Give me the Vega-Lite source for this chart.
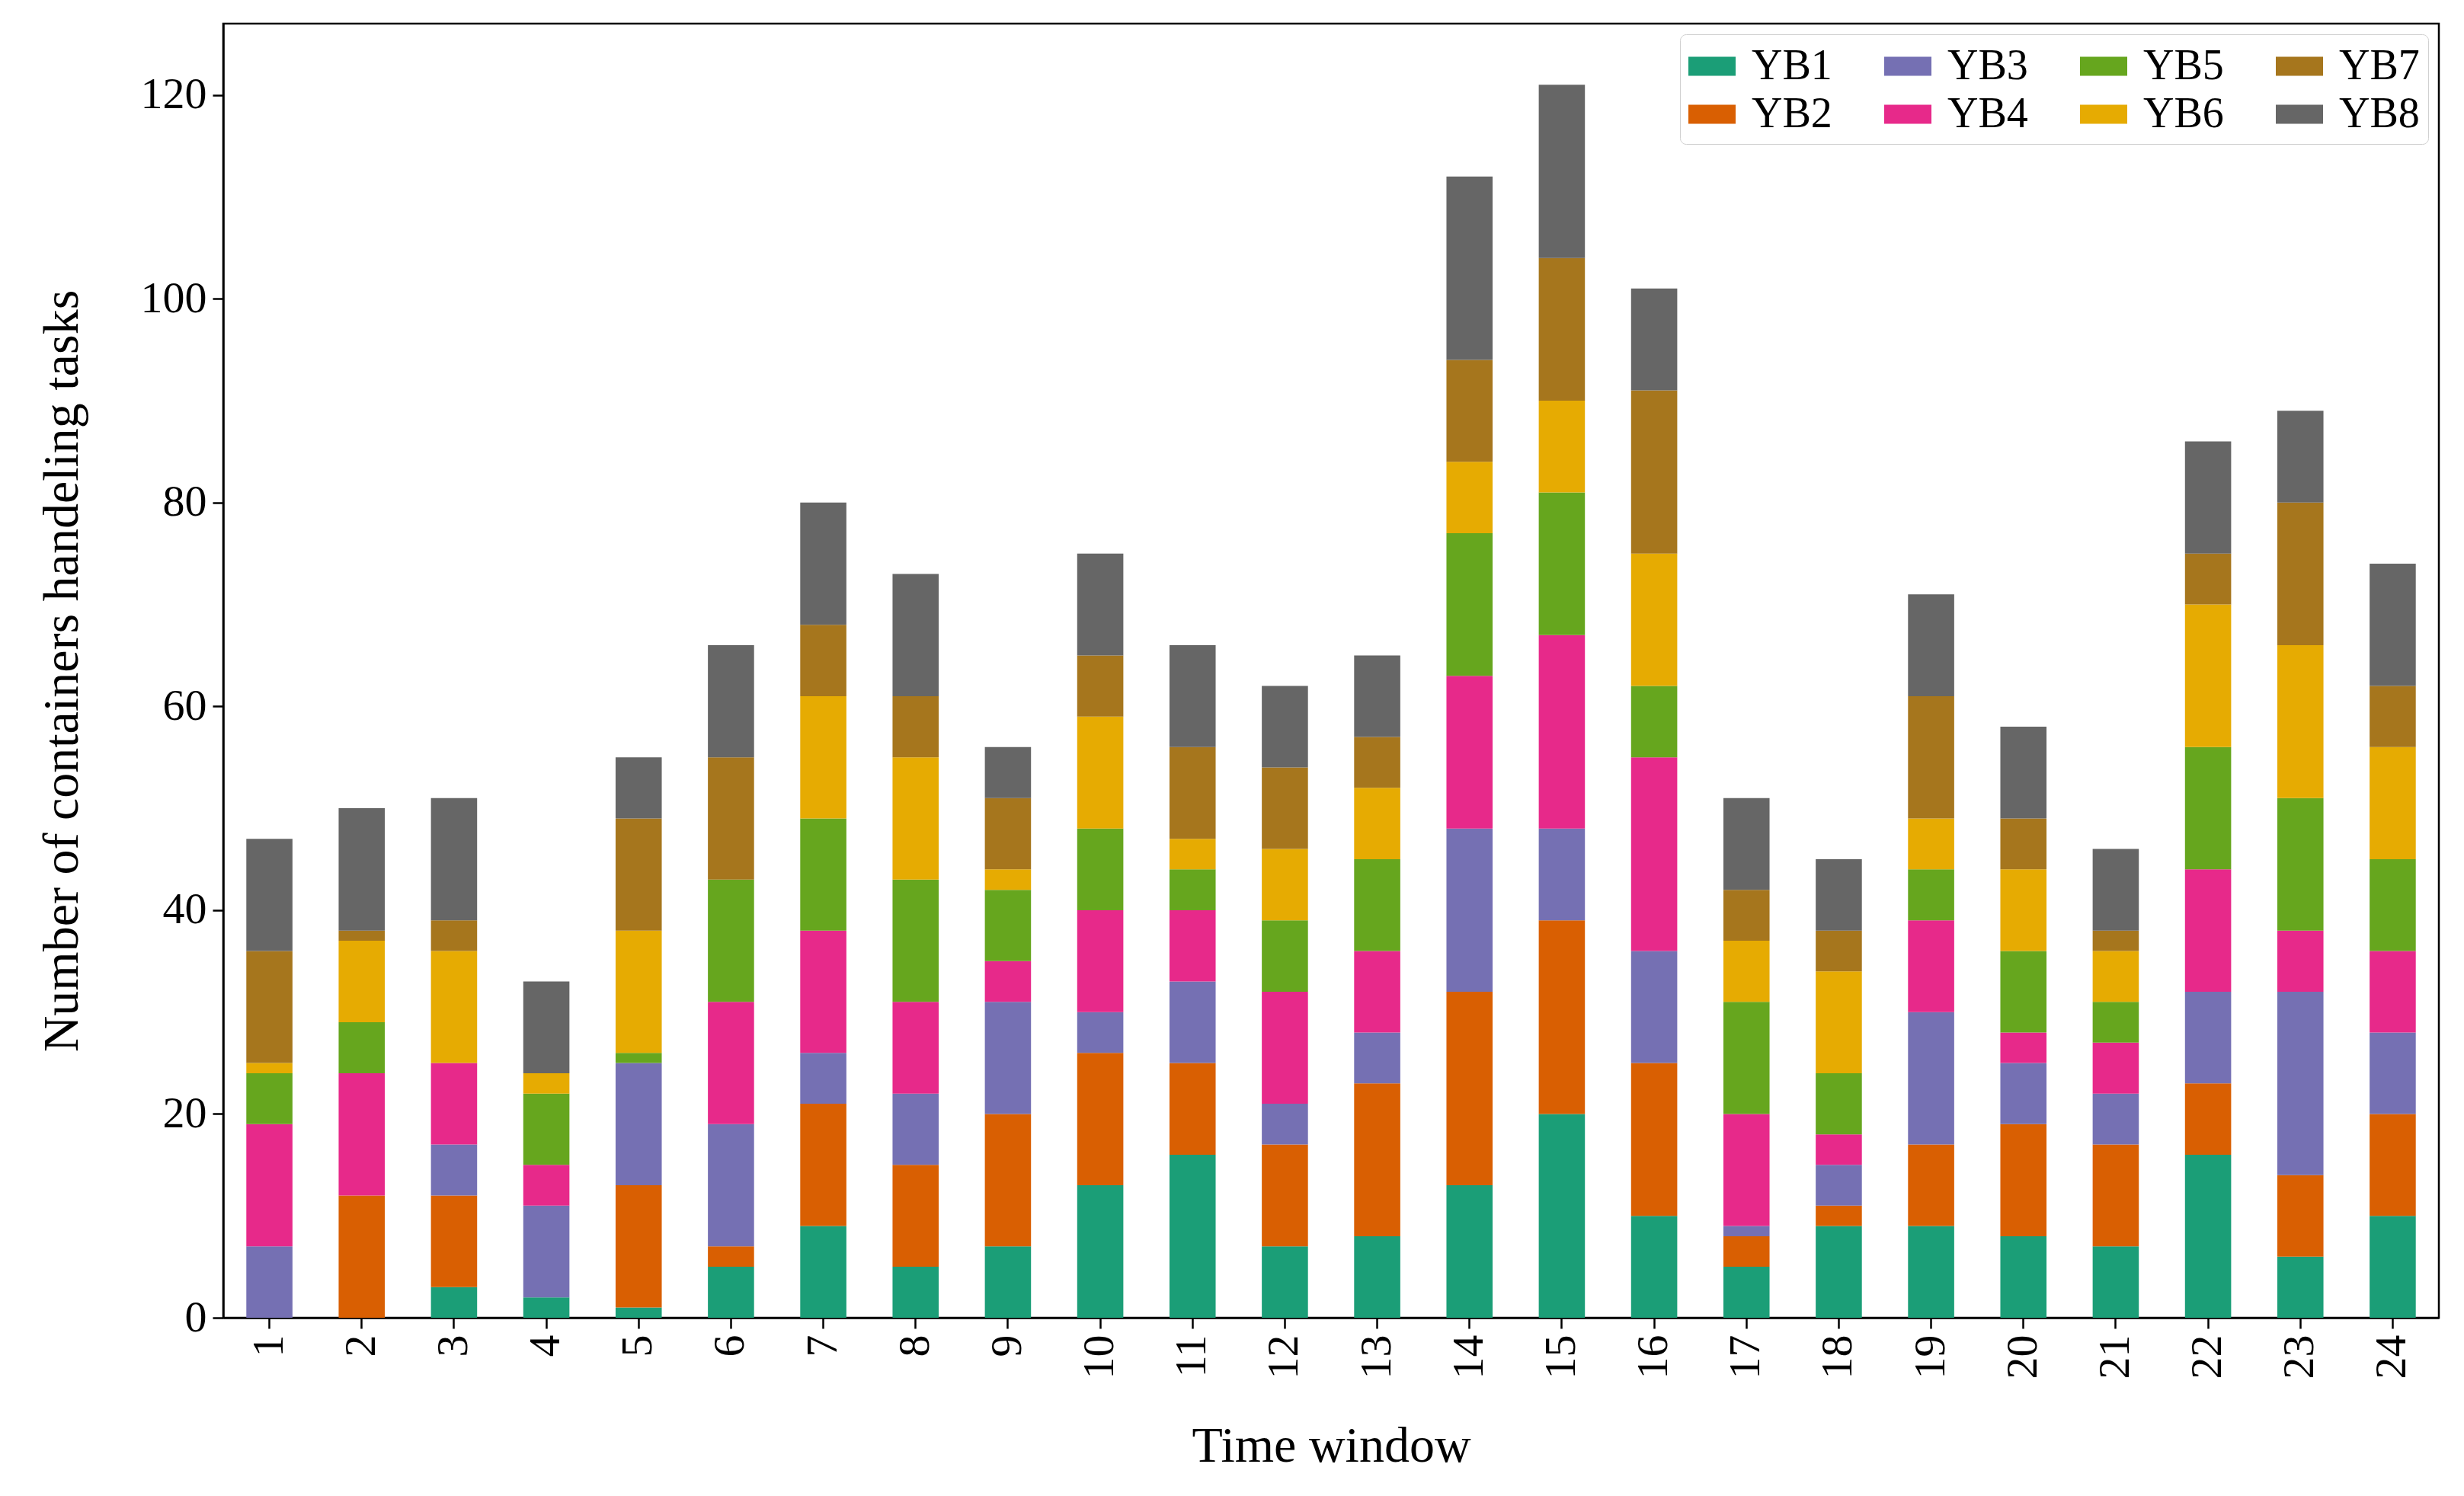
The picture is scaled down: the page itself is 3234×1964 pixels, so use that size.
{
  "$schema": "https://vega.github.io/schema/vega-lite/v6.json",
  "width": 2908,
  "height": 1699,
  "autosize": {"type": "none"},
  "padding": {"left": 293, "top": 31, "right": 33, "bottom": 234},
  "background": "white",
  "config": {
    "view": {"stroke": "black", "strokeWidth": 2.5},
    "axis": {
      "labelFont": "Liberation Serif", "labelFontSize": 58, "labelColor": "black",
      "titleFont": "Liberation Serif", "titleFontSize": 66, "titleFontWeight": "normal", "titleColor": "black",
      "tickColor": "black", "tickSize": 14, "tickWidth": 2.5,
      "domainColor": "black", "domainWidth": 2.5, "labelPadding": 8, "grid": false
    },
    "legend": {
      "labelFont": "Liberation Serif", "labelFontSize": 56, "labelColor": "black"
    }
  },
  "data": {"values": [
    {"w":1,"s":"YB1","v":0},{"w":1,"s":"YB2","v":0},{"w":1,"s":"YB3","v":7},{"w":1,"s":"YB4","v":12},{"w":1,"s":"YB5","v":5},{"w":1,"s":"YB6","v":1},{"w":1,"s":"YB7","v":11},{"w":1,"s":"YB8","v":11},
    {"w":2,"s":"YB1","v":0},{"w":2,"s":"YB2","v":12},{"w":2,"s":"YB3","v":0},{"w":2,"s":"YB4","v":12},{"w":2,"s":"YB5","v":5},{"w":2,"s":"YB6","v":8},{"w":2,"s":"YB7","v":1},{"w":2,"s":"YB8","v":12},
    {"w":3,"s":"YB1","v":3},{"w":3,"s":"YB2","v":9},{"w":3,"s":"YB3","v":5},{"w":3,"s":"YB4","v":8},{"w":3,"s":"YB5","v":0},{"w":3,"s":"YB6","v":11},{"w":3,"s":"YB7","v":3},{"w":3,"s":"YB8","v":12},
    {"w":4,"s":"YB1","v":2},{"w":4,"s":"YB2","v":0},{"w":4,"s":"YB3","v":9},{"w":4,"s":"YB4","v":4},{"w":4,"s":"YB5","v":7},{"w":4,"s":"YB6","v":2},{"w":4,"s":"YB7","v":0},{"w":4,"s":"YB8","v":9},
    {"w":5,"s":"YB1","v":1},{"w":5,"s":"YB2","v":12},{"w":5,"s":"YB3","v":12},{"w":5,"s":"YB4","v":0},{"w":5,"s":"YB5","v":1},{"w":5,"s":"YB6","v":12},{"w":5,"s":"YB7","v":11},{"w":5,"s":"YB8","v":6},
    {"w":6,"s":"YB1","v":5},{"w":6,"s":"YB2","v":2},{"w":6,"s":"YB3","v":12},{"w":6,"s":"YB4","v":12},{"w":6,"s":"YB5","v":12},{"w":6,"s":"YB6","v":0},{"w":6,"s":"YB7","v":12},{"w":6,"s":"YB8","v":11},
    {"w":7,"s":"YB1","v":9},{"w":7,"s":"YB2","v":12},{"w":7,"s":"YB3","v":5},{"w":7,"s":"YB4","v":12},{"w":7,"s":"YB5","v":11},{"w":7,"s":"YB6","v":12},{"w":7,"s":"YB7","v":7},{"w":7,"s":"YB8","v":12},
    {"w":8,"s":"YB1","v":5},{"w":8,"s":"YB2","v":10},{"w":8,"s":"YB3","v":7},{"w":8,"s":"YB4","v":9},{"w":8,"s":"YB5","v":12},{"w":8,"s":"YB6","v":12},{"w":8,"s":"YB7","v":6},{"w":8,"s":"YB8","v":12},
    {"w":9,"s":"YB1","v":7},{"w":9,"s":"YB2","v":13},{"w":9,"s":"YB3","v":11},{"w":9,"s":"YB4","v":4},{"w":9,"s":"YB5","v":7},{"w":9,"s":"YB6","v":2},{"w":9,"s":"YB7","v":7},{"w":9,"s":"YB8","v":5},
    {"w":10,"s":"YB1","v":13},{"w":10,"s":"YB2","v":13},{"w":10,"s":"YB3","v":4},{"w":10,"s":"YB4","v":10},{"w":10,"s":"YB5","v":8},{"w":10,"s":"YB6","v":11},{"w":10,"s":"YB7","v":6},{"w":10,"s":"YB8","v":10},
    {"w":11,"s":"YB1","v":16},{"w":11,"s":"YB2","v":9},{"w":11,"s":"YB3","v":8},{"w":11,"s":"YB4","v":7},{"w":11,"s":"YB5","v":4},{"w":11,"s":"YB6","v":3},{"w":11,"s":"YB7","v":9},{"w":11,"s":"YB8","v":10},
    {"w":12,"s":"YB1","v":7},{"w":12,"s":"YB2","v":10},{"w":12,"s":"YB3","v":4},{"w":12,"s":"YB4","v":11},{"w":12,"s":"YB5","v":7},{"w":12,"s":"YB6","v":7},{"w":12,"s":"YB7","v":8},{"w":12,"s":"YB8","v":8},
    {"w":13,"s":"YB1","v":8},{"w":13,"s":"YB2","v":15},{"w":13,"s":"YB3","v":5},{"w":13,"s":"YB4","v":8},{"w":13,"s":"YB5","v":9},{"w":13,"s":"YB6","v":7},{"w":13,"s":"YB7","v":5},{"w":13,"s":"YB8","v":8},
    {"w":14,"s":"YB1","v":13},{"w":14,"s":"YB2","v":19},{"w":14,"s":"YB3","v":16},{"w":14,"s":"YB4","v":15},{"w":14,"s":"YB5","v":14},{"w":14,"s":"YB6","v":7},{"w":14,"s":"YB7","v":10},{"w":14,"s":"YB8","v":18},
    {"w":15,"s":"YB1","v":20},{"w":15,"s":"YB2","v":19},{"w":15,"s":"YB3","v":9},{"w":15,"s":"YB4","v":19},{"w":15,"s":"YB5","v":14},{"w":15,"s":"YB6","v":9},{"w":15,"s":"YB7","v":14},{"w":15,"s":"YB8","v":17},
    {"w":16,"s":"YB1","v":10},{"w":16,"s":"YB2","v":15},{"w":16,"s":"YB3","v":11},{"w":16,"s":"YB4","v":19},{"w":16,"s":"YB5","v":7},{"w":16,"s":"YB6","v":13},{"w":16,"s":"YB7","v":16},{"w":16,"s":"YB8","v":10},
    {"w":17,"s":"YB1","v":5},{"w":17,"s":"YB2","v":3},{"w":17,"s":"YB3","v":1},{"w":17,"s":"YB4","v":11},{"w":17,"s":"YB5","v":11},{"w":17,"s":"YB6","v":6},{"w":17,"s":"YB7","v":5},{"w":17,"s":"YB8","v":9},
    {"w":18,"s":"YB1","v":9},{"w":18,"s":"YB2","v":2},{"w":18,"s":"YB3","v":4},{"w":18,"s":"YB4","v":3},{"w":18,"s":"YB5","v":6},{"w":18,"s":"YB6","v":10},{"w":18,"s":"YB7","v":4},{"w":18,"s":"YB8","v":7},
    {"w":19,"s":"YB1","v":9},{"w":19,"s":"YB2","v":8},{"w":19,"s":"YB3","v":13},{"w":19,"s":"YB4","v":9},{"w":19,"s":"YB5","v":5},{"w":19,"s":"YB6","v":5},{"w":19,"s":"YB7","v":12},{"w":19,"s":"YB8","v":10},
    {"w":20,"s":"YB1","v":8},{"w":20,"s":"YB2","v":11},{"w":20,"s":"YB3","v":6},{"w":20,"s":"YB4","v":3},{"w":20,"s":"YB5","v":8},{"w":20,"s":"YB6","v":8},{"w":20,"s":"YB7","v":5},{"w":20,"s":"YB8","v":9},
    {"w":21,"s":"YB1","v":7},{"w":21,"s":"YB2","v":10},{"w":21,"s":"YB3","v":5},{"w":21,"s":"YB4","v":5},{"w":21,"s":"YB5","v":4},{"w":21,"s":"YB6","v":5},{"w":21,"s":"YB7","v":2},{"w":21,"s":"YB8","v":8},
    {"w":22,"s":"YB1","v":16},{"w":22,"s":"YB2","v":7},{"w":22,"s":"YB3","v":9},{"w":22,"s":"YB4","v":12},{"w":22,"s":"YB5","v":12},{"w":22,"s":"YB6","v":14},{"w":22,"s":"YB7","v":5},{"w":22,"s":"YB8","v":11},
    {"w":23,"s":"YB1","v":6},{"w":23,"s":"YB2","v":8},{"w":23,"s":"YB3","v":18},{"w":23,"s":"YB4","v":6},{"w":23,"s":"YB5","v":13},{"w":23,"s":"YB6","v":15},{"w":23,"s":"YB7","v":14},{"w":23,"s":"YB8","v":9},
    {"w":24,"s":"YB1","v":10},{"w":24,"s":"YB2","v":10},{"w":24,"s":"YB3","v":8},{"w":24,"s":"YB4","v":8},{"w":24,"s":"YB5","v":9},{"w":24,"s":"YB6","v":11},{"w":24,"s":"YB7","v":6},{"w":24,"s":"YB8","v":12}
  ]},
  "mark": {"type": "bar"},
  "encoding": {
    "x": {
      "field": "w", "type": "ordinal",
      "scale": {"paddingInner": 0.5, "paddingOuter": 0.25},
      "axis": {"title": "Time window", "labelAngle": -90, "labelPadding": 8, "titlePadding": 56}
    },
    "y": {
      "field": "v", "type": "quantitative", "stack": "zero",
      "scale": {"domain": [0, 127], "nice": false},
      "axis": {"title": "Number of containers handeling tasks", "values": [0, 20, 40, 60, 80, 100, 120], "titlePadding": 69}
    },
    "color": {
      "field": "s", "type": "nominal",
      "scale": {
        "domain": ["YB1", "YB2", "YB3", "YB4", "YB5", "YB6", "YB7", "YB8"],
        "range": ["#1b9e77", "#d95f02", "#7570b3", "#e7298a", "#66a61e", "#e6ab02", "#a6761d", "#666666"]
      },
      "legend": {
        "title": null,
        "orient": "top-right",
        "offset": 14,
        "padding": 11,
        "columns": 4,
        "columnPadding": 68,
        "rowPadding": 4,
        "labelOffset": 21,
        "labelLimit": 400,
        "symbolType": "M-1,-0.4H1V0.4H-1Z",
        "symbolSize": 3844,
        "symbolStrokeWidth": 0,
        "strokeColor": "#d0d0d0",
        "cornerRadius": 8,
        "fillColor": "white"
      }
    },
    "order": {"field": "s", "sort": "ascending"}
  }
}
